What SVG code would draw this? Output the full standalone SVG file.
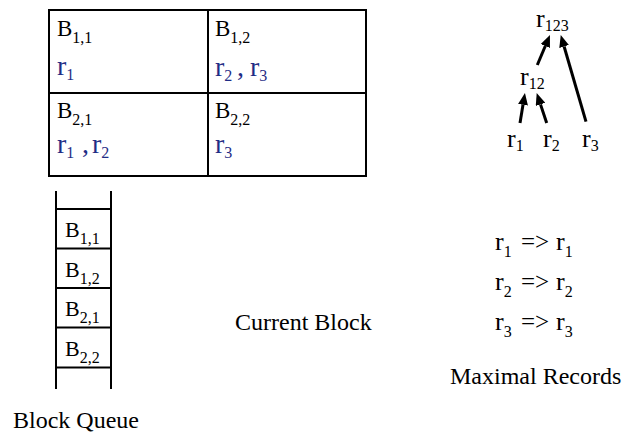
<svg xmlns="http://www.w3.org/2000/svg" width="627" height="434" viewBox="0 0 627 434">
  <style>
    text { font-family: "Liberation Serif", "Times New Roman", serif; fill: #000; }
    .b { font-size: 23px; }
    .qb { font-size: 22px; }
    .s { font-size: 16px; }
    .r { font-size: 28px; fill: #1f2d86; }
    .rs { font-size: 16px; fill: #1f2d86; }
    .tr { font-size: 26px; }
    .lbl { font-size: 24px; }
    .grid { fill: none; stroke: #000; stroke-width: 2; }
    .arrow { fill: none; stroke: #000; stroke-width: 3; marker-end: url(#ah); }
  </style>
  <defs>
    <marker id="ah" viewBox="0 -5 12 10" refX="0" refY="0" markerWidth="12" markerHeight="10" markerUnits="userSpaceOnUse" orient="auto">
      <path d="M0,-5 L12,0 L0,5 z" fill="#000"/>
    </marker>
  </defs>
  <rect width="627" height="434" fill="#fff"/>

  <g id="table">
    <rect class="grid" x="49" y="10" width="317" height="166"/>
    <line class="grid" x1="208" y1="10" x2="208" y2="176"/>
    <line class="grid" x1="49" y1="93" x2="366" y2="93"/>
  </g>
  <g id="cell-1-1">
    <text class="b" x="57" y="36">B<tspan class="s" y="43">1,1</tspan></text>
    <text class="r" x="57" y="75">r<tspan class="rs" y="80">1</tspan></text>
  </g>
  <g id="cell-1-2">
    <text class="b" x="215" y="36">B<tspan class="s" y="43">1,2</tspan></text>
    <text class="r" x="215" y="76">r<tspan class="rs" y="81">2</tspan></text>
    <text class="r" x="237" y="76">,</text>
    <text class="r" x="250" y="76">r<tspan class="rs" y="81">3</tspan></text>
  </g>
  <g id="cell-2-1">
    <text class="b" x="57" y="118">B<tspan class="s" y="125">2,1</tspan></text>
    <text class="r" x="57" y="153">r<tspan class="rs" y="158">1</tspan></text>
    <text class="r" x="82" y="153">,</text>
    <text class="r" x="92" y="153">r<tspan class="rs" y="158">2</tspan></text>
  </g>
  <g id="cell-2-2">
    <text class="b" x="215" y="118">B<tspan class="s" y="125">2,2</tspan></text>
    <text class="r" x="215" y="153">r<tspan class="rs" y="158">3</tspan></text>
  </g>

  <g id="queue">
    <line class="grid" x1="56" y1="191" x2="56" y2="389"/>
    <line class="grid" x1="111" y1="191" x2="111" y2="389"/>
    <line class="grid" x1="56" y1="209" x2="111" y2="209"/>
    <line class="grid" x1="56" y1="248.5" x2="111" y2="248.5"/>
    <line class="grid" x1="56" y1="288" x2="111" y2="288"/>
    <line class="grid" x1="56" y1="327.5" x2="111" y2="327.5"/>
    <line class="grid" x1="56" y1="367.5" x2="111" y2="367.5"/>
    <text class="qb" x="65" y="237">B<tspan class="s" y="244">1,1</tspan></text>
    <text class="qb" x="65" y="276.5">B<tspan class="s" y="283.5">1,2</tspan></text>
    <text class="qb" x="65" y="316">B<tspan class="s" y="323">2,1</tspan></text>
    <text class="qb" x="65" y="355.5">B<tspan class="s" y="362.5">2,2</tspan></text>
  </g>
  <g id="label-block-queue">
    <text class="lbl" x="13" y="428">Block Queue</text>
  </g>
  <g id="label-current-block">
    <text class="lbl" x="235" y="329.5">Current Block</text>
  </g>

  <g id="node-r123">
    <text class="tr" x="536" y="27">r<tspan class="s" y="31">123</tspan></text>
  </g>
  <g id="node-r12">
    <text class="tr" x="520" y="85">r<tspan class="s" y="89">12</tspan></text>
  </g>
  <g id="node-r1">
    <text class="tr" x="507" y="146.5">r<tspan class="s" y="150.5">1</tspan></text>
  </g>
  <g id="node-r2">
    <text class="tr" x="543" y="146.5">r<tspan class="s" y="150.5">2</tspan></text>
  </g>
  <g id="node-r3">
    <text class="tr" x="582" y="146.5">r<tspan class="s" y="150.5">3</tspan></text>
  </g>
  <g id="connectors">
    <line class="arrow" x1="520" y1="123" x2="523" y2="104.8"/>
    <line class="arrow" x1="546.7" y1="123" x2="540.5" y2="104.4"/>
    <line class="arrow" x1="537.3" y1="65" x2="545.3" y2="46"/>
    <line class="arrow" x1="586" y1="121.7" x2="564.1" y2="46.5"/>
  </g>

  <g id="maximal-records">
    <text class="tr" x="495" y="250">r<tspan class="s" y="257">1</tspan><tspan x="521" y="250" font-size="25">=&gt;</tspan><tspan x="556" y="250">r</tspan><tspan class="s" y="257">1</tspan></text>
    <text class="tr" x="495" y="290">r<tspan class="s" y="297">2</tspan><tspan x="521" y="290" font-size="25">=&gt;</tspan><tspan x="556" y="290">r</tspan><tspan class="s" y="297">2</tspan></text>
    <text class="tr" x="495" y="330">r<tspan class="s" y="337">3</tspan><tspan x="521" y="330" font-size="25">=&gt;</tspan><tspan x="556" y="330">r</tspan><tspan class="s" y="337">3</tspan></text>
    <text class="lbl" x="450" y="384">Maximal Records</text>
  </g>
</svg>
